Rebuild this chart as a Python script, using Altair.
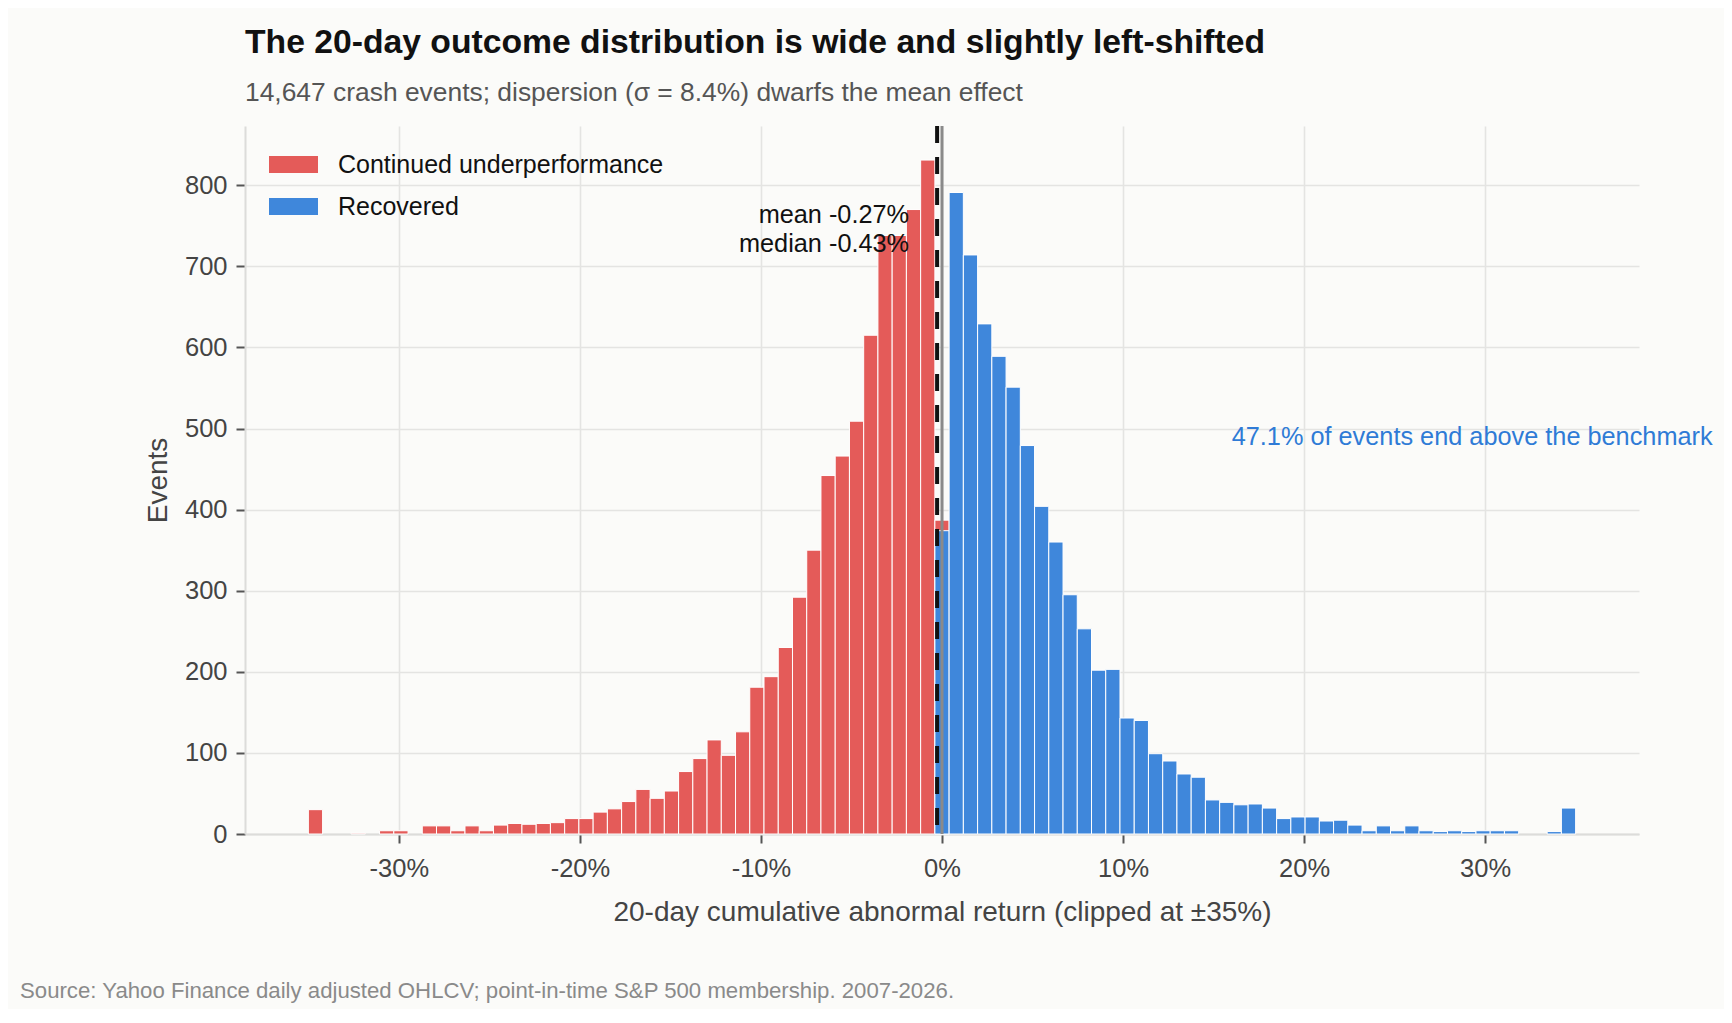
import altair as alt
import pandas as pd

# ---------------- data ----------------
BIN_LO, BIN_HI, N_BINS = -35.0, 35.0, 89
GROUPS = ["Continued underperformance", "Recovered"]

# counts of bins 0..44 (returns below 0)
red_counts = [30, 0, 0, 1, 0, 4, 4, 0, 10, 10,
              4, 10, 4, 11, 13, 12, 13, 14, 19, 19,
              27, 31, 40, 55, 44, 53, 77, 93, 116, 97,
              126, 181, 194, 230, 292, 350,
              442, 466, 509, 615, 738, 738, 770, 831, 387]
# counts of bins 44..88 (returns at or above 0)
blue_counts = [374, 791, 714, 629, 589, 551, 479, 404, 360, 295,
               253, 202, 203, 143, 140, 99, 90, 74, 70, 42,
               39, 36, 37, 32, 19, 21, 21, 16, 17, 11,
               4, 10, 4, 10, 4, 3, 4, 3, 4, 4,
               4, 0, 0, 3, 32]
RED_FIRST_BIN, BLUE_FIRST_BIN = 0, 44

mean_val = -0.27
median_val = -0.43
ann_lines = ["mean -0.27%", "median -0.43%"]
ann_y = [763, 727]
share_text = ["47.1% of events end above the benchmark"]
share_x, share_y = [16.0], [490]

x_ticks = [-30, -20, -10, 0, 10, 20, 30]
y_ticks = [0, 100, 200, 300, 400, 500, 600, 700, 800]
x_domain = [-38.5, 38.5]
y_domain = [0, 873]

TITLE = "The 20-day outcome distribution is wide and slightly left-shifted"
SUBTITLE = "14,647 crash events; dispersion (σ = 8.4%) dwarfs the mean effect"
X_TITLE = "20-day cumulative abnormal return (clipped at ±35%)"
Y_TITLE = "Events"
SOURCE = "Source: Yahoo Finance daily adjusted OHLCV; point-in-time S&P 500 membership. 2007-2026."

# ---------------- styles ----------------
RED = "#e45b59"
BLUE = "#3f87db"
TEXT_BLUE = "#2f7bd6"
BG = "#fbfbf9"
GRID = "#e4e4e2"
FONT = "Liberation Sans"
PLOT_W, PLOT_H = 1394, 708

bw = (BIN_HI - BIN_LO) / N_BINS
rows = []
for first, counts, grp in ((RED_FIRST_BIN, red_counts, GROUPS[0]),
                           (BLUE_FIRST_BIN, blue_counts, GROUPS[1])):
    for j, c in enumerate(counts):
        if c <= 0:
            continue
        k = first + j
        rows.append({"x0": BIN_LO + k * bw, "x1": BIN_LO + (k + 1) * bw,
                     "n": c, "grp": grp})
df = pd.DataFrame(rows)

x_scale = alt.Scale(domain=x_domain, nice=False, zero=False)
y_scale = alt.Scale(domain=y_domain, nice=False, zero=False)

bars = alt.Chart(df).mark_rect(stroke="white", strokeWidth=1).encode(
    x=alt.X("x0:Q", scale=x_scale,
            axis=alt.Axis(values=x_ticks, labelExpr="datum.value + '%'",
                          title=X_TITLE, labelPadding=13, titlePadding=17,
                          tickSize=9)),
    x2="x1:Q",
    y=alt.Y("n:Q", scale=y_scale,
            axis=alt.Axis(values=y_ticks, title=Y_TITLE, labelPadding=9,
                          titlePadding=12, tickSize=9)),
    y2=alt.datum(0),
    color=alt.Color("grp:N", scale=alt.Scale(domain=GROUPS, range=[RED, BLUE]),
                    legend=alt.Legend(orient="none", legendX=24, legendY=14,
                                      title=None,
                                      symbolType="M-1,-0.347H1V0.347H-1Z",
                                      symbolSize=2401, symbolStrokeWidth=0,
                                      symbolOpacity=1,
                                      labelFontSize=25, labelColor="#111",
                                      labelFont=FONT, labelOffset=20,
                                      labelLimit=800, rowPadding=4,
                                      padding=0)),
)

zero_rule = alt.Chart(pd.DataFrame({"v": [0.0]})).mark_rule(
    color="#8a8a8a", strokeWidth=3).encode(x=alt.X("v:Q", scale=x_scale))

mean_rule = alt.Chart(pd.DataFrame({"v": [mean_val]})).mark_rule(
    color="#111111", strokeWidth=4, strokeDash=[17, 14]).encode(
    x=alt.X("v:Q", scale=x_scale))

ann_df = pd.DataFrame({"x": [mean_val] * len(ann_lines), "y": ann_y, "t": ann_lines})
ann = alt.Chart(ann_df).mark_text(
    align="right", baseline="middle", dx=-28, fontSize=25.3, color="#111",
    font=FONT).encode(x=alt.X("x:Q", scale=x_scale), y=alt.Y("y:Q", scale=y_scale),
                      text="t:N")

share_df = pd.DataFrame({"x": share_x, "y": share_y, "t": share_text})
share = alt.Chart(share_df).mark_text(
    align="left", baseline="middle", fontSize=25.3, color=TEXT_BLUE,
    font=FONT).encode(x=alt.X("x:Q", scale=x_scale), y=alt.Y("y:Q", scale=y_scale),
                      text="t:N")

foot = alt.Chart(pd.DataFrame({"t": [SOURCE]})).mark_text(
    align="left", baseline="middle", fontSize=22.2, color="#8a8a8a",
    font=FONT).encode(x=alt.value(-225), y=alt.value(865), text="t:N")

chart = alt.layer(bars, zero_rule, mean_rule, ann, share, foot).properties(
    width=PLOT_W, height=PLOT_H,
    title=alt.TitleParams(text=TITLE, subtitle=SUBTITLE, anchor="start",
                          frame="group", font=FONT, fontSize=33.7,
                          fontWeight="bold", color="#111",
                          subtitleFont=FONT, subtitleFontSize=26.4,
                          subtitleColor="#555", subtitlePadding=19.5, offset=18),
    padding={"left": 237, "top": 118, "right": 85, "bottom": 175},
    autosize=alt.AutoSizeParams(type="none"),
    background=BG,
).configure(font=FONT).configure_view(strokeWidth=0).configure_axis(
    zindex=1, grid=True, gridColor=GRID, gridWidth=1.6,
    domainColor="#dcdcda", domainWidth=2,
    tickColor="#555", tickWidth=2,
    labelFont=FONT, labelFontSize=25.5, labelColor="#444",
    titleFont=FONT, titleFontSize=28, titleColor="#444",
    titleFontWeight="normal",
)

chart.save("out.html", embed_options={"renderer": "svg", "actions": False})
